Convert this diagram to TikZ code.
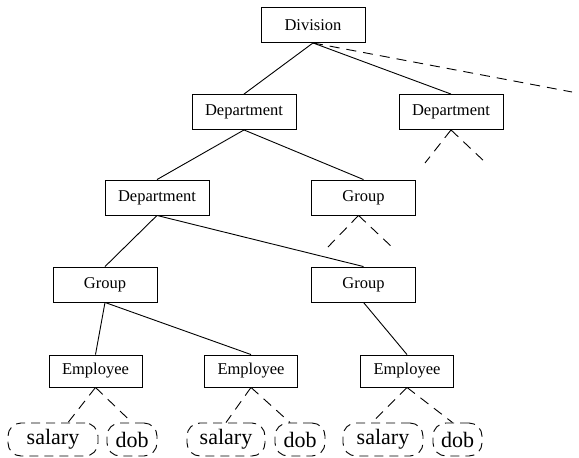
\documentclass[tikz,border=0pt]{standalone}
\usepackage{fontspec}
\setmainfont{Liberation Serif}
\begin{document}
\begin{tikzpicture}[x=1pt,y=-1pt,
  box/.style={draw,line width=0.9pt,minimum width=104pt,minimum height=35pt,inner sep=0pt,font=\fontsize{16.5}{18}\selectfont},
  ebox/.style={box,minimum width=93pt,minimum height=32pt},
  attr/.style={draw,dashed,dash pattern=on 9pt off 6pt,line width=0.9pt,rounded corners=13pt,minimum height=33pt,inner sep=0pt,font=\fontsize{22}{24}\selectfont},
  edge/.style={line width=0.9pt},
  dedge/.style={line width=0.9pt,dash pattern=on 10pt off 7pt}]
\useasboundingbox (0,0) rectangle (579,458);
\node[box] (div) at (313,25) {Division};
\node[box] (dep1) at (244,112) {Department};
\node[box] (dep2) at (451,112) {Department};
\node[box] (dep3) at (157,197.5) {Department};
\node[box] (grp1) at (363.5,197.5) {Group};
\node[box] (grp2) at (105,284.5) {Group};
\node[box] (grp3) at (363.5,284.5) {Group};
\node[ebox] (emp1) at (95.5,371) {Employee};
\node[ebox] (emp2) at (251,371) {Employee};
\node[ebox] (emp3) at (407,371) {Employee};
\node[attr,minimum width=90pt] (sal1) at (53,439.5) {salary};
\node[attr,minimum width=50pt] (dob1) at (132,439.5) {dob};
\node[attr,minimum width=78pt] (sal2) at (226,439.5) {salary};
\node[attr,minimum width=50pt] (dob2) at (300,439.5) {dob};
\node[attr,minimum width=80pt] (sal3) at (383,439.5) {salary};
\node[attr,minimum width=49pt] (dob3) at (457.5,439.5) {dob};
\coordinate (far) at (572,92);
\coordinate (d2l) at (425,163);
\coordinate (d2r) at (486,163);
\coordinate (g1l) at (327,248);
\coordinate (g1r) at (393,248);
\draw[edge] (div.south) -- (dep1.north);
\draw[edge] (div.south) -- (dep2.north);
\draw[dedge] (div.south) -- (far);
\draw[dedge] (dep2.south) -- (d2l);
\draw[dedge] (dep2.south) -- (d2r);
\draw[edge] (dep1.south) -- (dep3.north);
\draw[edge] (dep1.south) -- (grp1.north);
\draw[dedge] ([xshift=-5pt]grp1.south) -- (g1l);
\draw[dedge] ([xshift=-5pt]grp1.south) -- (g1r);
\draw[edge] (dep3.south) -- (grp2.north);
\draw[edge] (dep3.south) -- (grp3.north);
\draw[edge] (grp2.south) -- (emp1.north);
\draw[edge] (grp2.south) -- (emp2.north);
\draw[edge] (grp3.south) -- (emp3.north);
\draw[dedge] (emp1.south) -- ([xshift=15pt]sal1.north);
\draw[dedge] (emp1.south) -- (dob1.north);
\draw[dedge] (emp2.south) -- (sal2.north);
\draw[dedge] (emp2.south) -- ([xshift=-10pt]dob2.north);
\draw[dedge] (emp3.south) -- ([xshift=-11pt]sal3.north);
\draw[dedge] (emp3.south) -- ([xshift=-5pt]dob3.north);
\end{tikzpicture}
\end{document}
